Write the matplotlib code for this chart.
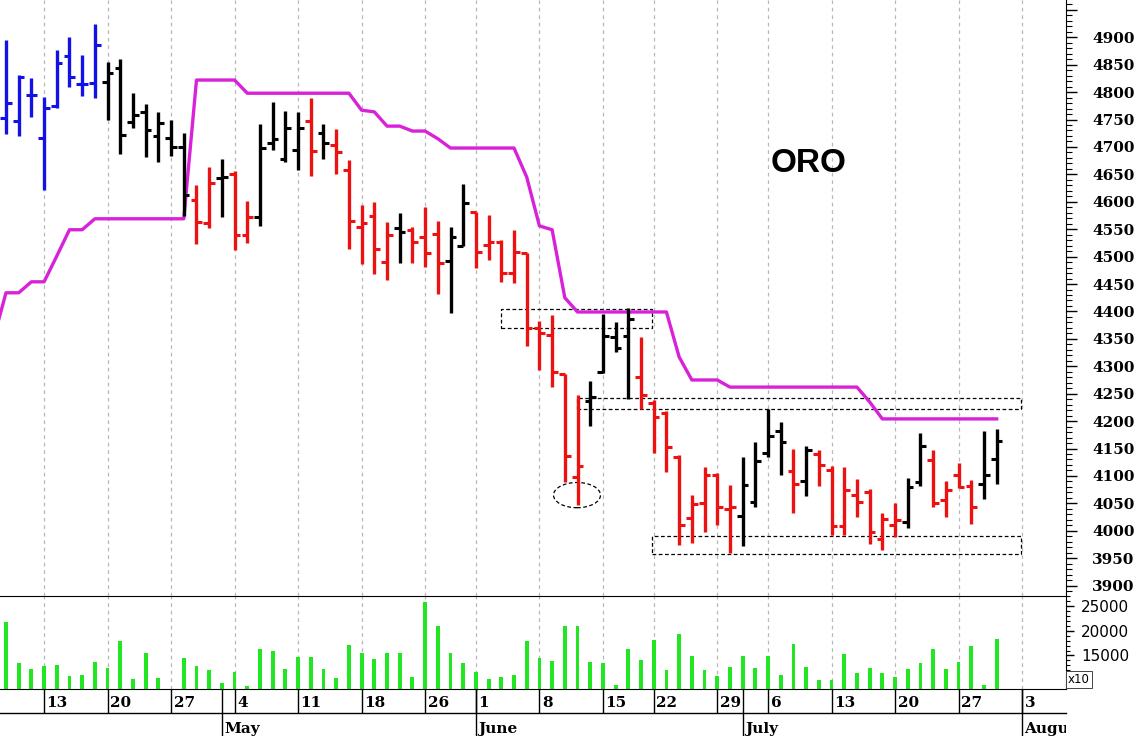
import matplotlib
matplotlib.use("Agg")
import matplotlib.pyplot as plt
import numpy as np
from matplotlib.patches import Rectangle, Ellipse
from matplotlib.ticker import MultipleLocator
from matplotlib.transforms import Bbox, TransformedBbox

# daily bars, first one sits just left of the visible area
opens = [4700,
         4753, 4748, 4795, 4716, 4775, 4866, 4815, 4816,
         4818, 4844, 4746, 4764, 4720, 4716, 4700,
         4603, 4561, 4643, 4650, 4540, 4572, 4707, 4678, 4694, 4747, 4725, 4703,
         4658, 4554, 4574, 4490, 4552, 4549, 4536, 4541, 4492, 4520,
         4581, 4521, 4526, 4470, 4506, 4369, 4357, 4286, 4098, 4236,
         4290, 4353, 4355, 4281, 4233, 4215, 4134, 4023, 4051, 4102,
         4040, 4027, 4053, 4141, 4182, 4109, 4091, 4140, 4111, 4008,
         4066, 4071, 3985, 4010, 4016, 4089, 4129, 4056, 4102, 4082,
         4085, 4131]
highs = [4725,
         4895, 4831, 4825, 4791, 4877, 4901, 4868, 4924,
         4855, 4861, 4798, 4778, 4764, 4750, 4725,
         4630, 4664, 4678, 4657, 4601, 4741, 4782, 4766, 4764, 4789, 4741, 4732,
         4676, 4594, 4599, 4563, 4579, 4554, 4590, 4565, 4554, 4632,
         4581, 4576, 4530, 4549, 4506, 4382, 4393, 4286, 4247, 4274,
         4395, 4380, 4407, 4353, 4238, 4218, 4138, 4066, 4116, 4105,
         4084, 4134, 4162, 4222, 4199, 4149, 4154, 4147, 4118, 4116,
         4094, 4076, 4032, 4051, 4096, 4179, 4147, 4091, 4123, 4093,
         4182, 4186]
lows = [4660,
        4723, 4720, 4755, 4621, 4771, 4809, 4793, 4789,
        4749, 4687, 4735, 4682, 4673, 4683, 4574,
        4523, 4552, 4572, 4512, 4525, 4556, 4694, 4673, 4658, 4647, 4678, 4651,
        4514, 4486, 4468, 4457, 4488, 4488, 4481, 4432, 4398, 4519,
        4479, 4493, 4454, 4452, 4337, 4294, 4263, 4089, 4047, 4191,
        4288, 4326, 4240, 4222, 4141, 4107, 3974, 3978, 3998, 4010,
        3960, 3972, 4044, 4134, 4102, 4032, 4064, 4082, 3992, 3992,
        4025, 3976, 3965, 3989, 4005, 4082, 4044, 4025, 4078, 4012,
        4058, 4085]
closes = [4690,
          4780, 4827, 4795, 4771, 4853, 4827, 4815, 4886,
          4835, 4721, 4759, 4730, 4743, 4700, 4612,
          4563, 4635, 4646, 4540, 4572, 4698, 4714, 4734, 4734, 4692, 4707, 4691,
          4565, 4561, 4514, 4540, 4545, 4527, 4506, 4488, 4536, 4597,
          4508, 4526, 4470, 4508, 4369, 4360, 4290, 4137, 4118, 4244,
          4355, 4333, 4386, 4247, 4208, 4153, 4011, 4049, 4102, 4044,
          4044, 4084, 4127, 4173, 4161, 4085, 4147, 4120, 4008, 4075,
          4053, 3998, 4021, 4019, 4080, 4154, 4051, 4075, 4080, 4044,
          4102, 4164]
# b = up trend, k = neutral, r = down trend
trend = ("k" + "bbbbbbbb" + "kkkkkkk" + "rr" + "k" + "rr" + "kkkk" + "r" + "k"
         + "rrrrr" + "k" + "rrr" + "kk" + "rrrrrrrrr" + "kkkk" + "rrrrrrrr"
         + "kkkk" + "r" + "k" + "rrrrrrr" + "kk" + "rrrr" + "kk")
stop = [4348,
        4434, 4434, 4454, 4454, 4501, 4549, 4549, 4569,
        4569, 4569, 4569, 4569, 4569, 4569, 4569,
        4822, 4822, 4822, 4822, 4798, 4798, 4798, 4798, 4798, 4798, 4798, 4798,
        4798, 4767, 4764, 4738, 4738, 4729, 4729, 4715, 4698, 4698,
        4698, 4698, 4698, 4698, 4645, 4556, 4549, 4425, 4399, 4399,
        4399, 4399, 4399, 4399, 4399, 4399, 4317, 4275, 4275, 4275,
        4262, 4262, 4262, 4262, 4262, 4262, 4262, 4262, 4262, 4262,
        4262, 4235, 4204, 4204, 4204, 4204, 4204, 4204, 4204, 4204,
        4204, 4204]
volume = [12000,
          21720, 13420, 12210, 12875, 13080, 10850, 11050, 13745,
          12530, 18000, 10245, 15570, 10510, 8000, 14555,
          12875, 12000, 9370, 11660, 8890, 16255, 15970, 12210, 14760, 14760, 12210, 10450,
          17125, 15445, 14290, 15445, 15445, 10710, 25770, 20970, 15445, 13420,
          11600, 10185, 10710, 11050, 18000, 14555, 13950, 20970, 20970, 13745,
          13420, 9030, 16255, 14090, 18140, 12065, 19290, 14900, 12065, 10850,
          12610, 14900, 12530, 14900, 11115, 17265, 12610, 10040, 10040, 15240,
          11400, 12530, 11400, 10590, 12270, 13420, 16255, 12270, 13745, 16920,
          9030, 18280]

# trading-day index of each date label
day_labels = ['13', '20', '27', '4', '11', '18', '26', '1', '8', '15', '22', '29',
              '6', '13', '20', '27', '3']
day_pos = [3, 8, 13, 18, 23, 28, 33, 37, 42, 47, 51, 56, 60, 65, 70, 75, 80]
month_labels = ['May', 'June', 'July', 'August']
month_pos = [17, 37, 58, 80]

# dashed annotation boxes (x0, x1, y0, y1) and the circled low
boxes = [(39.0, 50.9, 4370, 4405), (44.96, 79.9, 4222, 4242), (50.9, 79.9, 3958, 3991)]
circle = (44.96, 4065, 3.7, 46)

colmap = {'b': '#1212e6', 'k': '#000000', 'r': '#ec1212'}
cols = [colmap[c] for c in trend]
idx = np.arange(len(closes)) - 1
x0, x1 = -0.47, 83.46

fig = plt.figure(figsize=(11.36, 7.36), dpi=100)
ax = fig.add_axes([0, 0.19022, 0.93838, 0.80978])
axv = fig.add_axes([0, 0.06386, 0.93838, 0.12636])

for a in (ax, axv):
    a.set_xlim(x0, x1)
    a.vlines(day_pos, 0, 1, transform=a.get_xaxis_transform(), colors='#b8b8b8',
             linestyles=(0, (3, 3)), lw=0.9, zorder=0)
    a.tick_params(axis='x', which='both', bottom=False, labelbottom=False)
    a.spines['left'].set_visible(False)
    a.yaxis.tick_right()

# price panel
ax.plot(idx, stop, color='#d822d8', lw=2.4, zorder=2)
ax.vlines(idx, lows, highs, colors=cols, lw=2.4, zorder=3)
ax.hlines(opens, idx - 0.45, idx, colors=cols, lw=2.2, zorder=3)
ax.hlines(closes, idx, idx + 0.45, colors=cols, lw=2.2, zorder=3)

for bx0, bx1, by0, by1 in boxes:
    ax.add_patch(Rectangle((bx0, by0), bx1 - bx0, by1 - by0, fill=False, ec='black',
                           lw=0.9, ls=(0, (3, 2)), zorder=1))
ax.add_patch(Ellipse(circle[:2], circle[2], circle[3], fill=False, ec='black',
                     lw=0.9, ls=(0, (3, 2)), zorder=1))

ax.text(63.2, 4670, 'ORO', fontsize=24, fontweight='bold', family='Liberation Sans',
        ha='center', va='center')

ax.set_ylim(3881, 4968)
ticks = np.arange(3900, 4951, 50)
ax.set_yticks(ticks)
ax.set_yticklabels([str(t) if t < 4950 else '' for t in ticks])
ax.yaxis.set_minor_locator(MultipleLocator(10))
ax.tick_params(axis='y', which='major', length=8, width=1, pad=11, labelsize=11)
ax.tick_params(axis='y', which='minor', length=4, width=0.8)
for lab in ax.get_yticklabels():
    lab.set_family('DejaVu Serif')
    lab.set_fontweight('bold')
ax.spines['top'].set_visible(False)
ax.spines['bottom'].set_visible(False)

# volume panel
axv.bar(idx, volume, width=0.3, color='#22e622', zorder=2)
axv.set_ylim(8220, 27024)
axv.set_yticks([10000, 15000, 20000, 25000])
axv.set_yticklabels(['', '15000', '20000', '25000'])
axv.yaxis.set_minor_locator(MultipleLocator(1000))
axv.tick_params(axis='y', which='major', length=6, width=1, pad=5, labelsize=11)
axv.tick_params(axis='y', which='minor', length=3, width=0.8)
axv.text(1.002, 0.03, 'x10', transform=axv.transAxes, fontsize=8.5, ha='left', va='bottom',
         bbox=dict(boxstyle='square,pad=0.15', fc='white', ec='#444444', lw=0.7))

# date strip under the volume panel
trans = axv.get_xaxis_transform()
axv.plot([x0, x1], [-0.258, -0.258], color='black', lw=1, transform=trans, clip_on=False)
axv.vlines(day_pos, -0.258, 0, colors='black', lw=1, transform=trans, clip_on=False)
axv.vlines(month_pos, -0.51, 0, colors='black', lw=1, transform=trans, clip_on=False)
for p, lab in zip(day_pos, day_labels):
    axv.text(p + 0.2, -0.195, lab, transform=trans, ha='left', va='baseline',
             family='DejaVu Serif', fontweight='bold', fontsize=11, clip_on=False)
clip = TransformedBbox(Bbox([[0, 0], [0.93838, 1]]), fig.transFigure)
for p, lab in zip(month_pos, month_labels):
    t = axv.text(p + 0.2, -0.47, lab, transform=trans, ha='left', va='baseline',
                 family='DejaVu Serif', fontweight='bold', fontsize=11)
    t.set_clip_box(clip)
    t.set_clip_on(True)

fig.savefig('out.png', dpi=100)
